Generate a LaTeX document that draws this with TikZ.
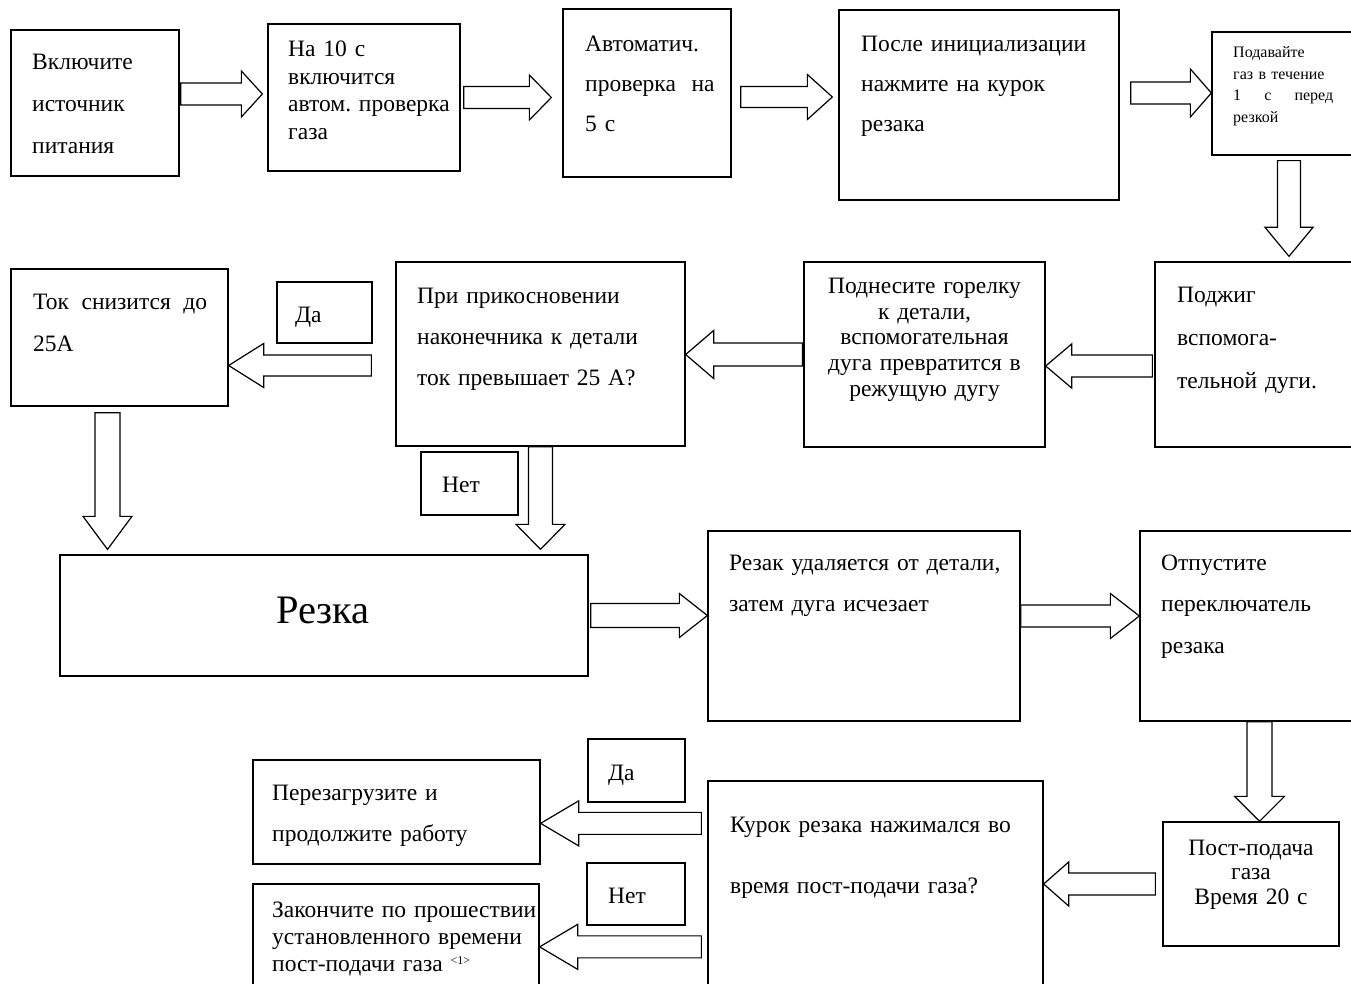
\documentclass[tikz,border=0pt]{standalone}
\usepackage{fontspec}
\setmainfont{Liberation Serif}
\usetikzlibrary{calc,fit}
\newcommand\fs[2]{\fontsize{#1}{#2}\selectfont\frenchspacing}
\tikzset{
  box/.style={draw, line width=1.3pt, inner sep=0pt},
  txt/.style={inner sep=0pt, anchor=base west, align=left, text width=#1},
  ctxt/.style={inner sep=0pt, anchor=base, align=center, text width=#1},
  barrow/.style={draw, line width=1.2pt, fill=white, line join=miter},
}
% block arrow: #1 from, #2 to, #3 shaft half-width, #4 head length, #5 head half-width
\newcommand\blockarrow[5]{%
  \draw[barrow] ($(#1)!#3pt!90:(#2)$)
    -- ($($(#2)!#4pt!(#1)$)!#3pt!90:(#2)$)
    -- ($($(#2)!#4pt!(#1)$)!#5pt!90:(#2)$)
    -- (#2)
    -- ($($(#2)!#4pt!(#1)$)!#5pt!-90:(#2)$)
    -- ($($(#2)!#4pt!(#1)$)!#3pt!-90:(#2)$)
    -- ($(#1)!#3pt!-90:(#2)$) -- cycle;}
\begin{document}
\begin{tikzpicture}[x=1pt,y=-1pt]
\useasboundingbox (0,0) rectangle (1351,984);
% boxes
\node[box, fit={(11,30) (179,176)}] (b1) {};
\node[box, fit={(268,24) (460,171)}] (b2) {};
\node[box, fit={(563,9) (731,177)}] (b3) {};
\node[box, fit={(839,10) (1119,200)}] (b4) {};
\node[box, fit={(1212,32) (1356,155)}] (b5) {};
\node[box, fit={(1155,262) (1356,447)}] (b6) {};
\node[box, fit={(804,262) (1045,447)}] (b7) {};
\node[box, fit={(396,262) (685,446)}] (b8) {};
\node[box, fit={(11,269) (228,406)}] (b9) {};
\node[box, fit={(277,282) (372,343)}] (l1) {};
\node[box, fit={(421,452) (518,515)}] (l2) {};
\node[box, fit={(60,555) (588,676)}] (b10) {};
\node[box, fit={(708,531) (1020,721)}] (b11) {};
\node[box, fit={(1140,531) (1356,721)}] (b12) {};
\node[box, fit={(1163,822) (1339,946)}] (b13) {};
\node[box, fit={(708,781) (1043,995)}] (b14) {};
\node[box, fit={(253,760) (540,864)}] (b15) {};
\node[box, fit={(253,884) (539,995)}] (b16) {};
\node[box, fit={(588,739) (685,802)}] (l3) {};
\node[box, fit={(587,863) (685,925)}] (l4) {};
% texts
\node[txt=150pt, font=\fs{23.5}{42}] (t1) at (32,70) {Включите\\источник\\питания};
\node[txt=180pt, font=\fs{23.5}{27.5}] (t2) at (288,57) {На 10 с\\включится\\автом. проверка\\газа};
\node[txt=150pt, font=\fs{23.5}{40}] (t3) at (585,52) {Автоматич.\\проверка~ на\\5 с};
\node[txt=260pt, font=\fs{23.5}{40}] (t4) at (861,52) {После инициализации\\нажмите на курок\\резака};
\node[txt=100pt, font=\fs{16}{21.5}] (t5) at (1233,58) {Подавайте\\газ в течение\\1\hfill с\hfill перед\\резкой};
\node[txt=175pt, font=\fs{23.5}{43}] (t6) at (1177,302) {Поджиг\\вспомога-\\тельной дуги.};
\node[ctxt=240pt, font=\fs{23.5}{25.5}] (t7) at (924.5,294) {Поднесите горелку\\к детали,\\вспомогательная\\дуга превратится в\\режущую дугу};
\node[txt=265pt, font=\fs{23.5}{41}] (t8) at (417,303) {При прикосновении\\наконечника к детали\\ток превышает 25 А?};
\node[txt=174pt, font=\fs{23.5}{42}] (t9) at (33,309) {Ток\hfill снизится\hfill до\\25А};
\node[txt=60pt, font=\fs{23.5}{26}] (tl1) at (295,322) {Да};
\node[txt=60pt, font=\fs{23.5}{26}] (tl2) at (442,492) {Нет};
\node[inner sep=0pt, anchor=base, font=\fs{40.5}{46}] (t10) at (323,623) {Резка};
\node[txt=300pt, font=\fs{23.5}{41}] (t11) at (729,570) {Резак удаляется от детали,\\затем дуга исчезает};
\node[txt=190pt, font=\fs{23.5}{41.5}] (t12) at (1161,570) {Отпустите\\переключатель\\резака};
\node[ctxt=176pt, font=\fs{23.5}{24.5}] (t13) at (1251,855) {Пост-подача\\газа\\Время 20 с};
\node[txt=310pt, font=\fs{23.5}{61}] (t14) at (730,832) {Курок резака нажимался во\\время пост-подачи газа?};
\node[txt=268pt, font=\fs{23.5}{41}] (t15) at (272,800) {Перезагрузите и\\продолжите работу};
\node[txt=270pt, font=\fs{23.5}{27}] (t16) at (272,917) {Закончите по прошествии\\установленного времени\\пост-подачи газа \raisebox{7pt}{\fs{12}{12}<1>}};
\node[txt=60pt, font=\fs{23.5}{26}] (tl3) at (608,780) {Да};
\node[txt=60pt, font=\fs{23.5}{26}] (tl4) at (608,903) {Нет};
% arrow endpoints
\coordinate (a1s) at ($(b1.east)+(1,-9)$);
\coordinate (a1e) at ($(b2.west|-a1s)+(-5,0)$);
\coordinate (a2s) at ($(b2.east)+(3,0)$);
\coordinate (a2e) at ($(b3.west|-a2s)+(-11,0)$);
\coordinate (a3s) at ($(b3.east)+(9,4)$);
\coordinate (a3e) at ($(b4.west|-a3s)+(-6,0)$);
\coordinate (a4s) at ($(b4.east)+(11,-12)$);
\coordinate (a4e) at (b5.west|-a4s);
\coordinate (a5s) at ($(b5.south)+(5,5)$);
\coordinate (a5e) at ($(a5s|-b6.north)+(0,-5)$);
\coordinate (a6s) at ($(b6.west)+(-2,11.5)$);
\coordinate (a6e) at (b7.east|-a6s);
\coordinate (a7s) at ($(b7.west)+(-1,0)$);
\coordinate (a7e) at (b8.east|-a7s);
\coordinate (a8s) at ($(b8.west)+(-24,11.5)$);
\coordinate (a8e) at (b9.east|-a8s);
\coordinate (a9s) at ($(b9.south)+(-12,6)$);
\coordinate (a9e) at ($(a9s|-b10.north)+(0,-5)$);
\coordinate (a10s) at (b8.south);
\coordinate (a10e) at ($(a10s|-b10.north)+(0,-5)$);
\coordinate (a11s) at ($(b10.east)+(2,0)$);
\coordinate (a11e) at (b11.west|-a11s);
\coordinate (a12s) at ($(b11.east)+(0,-10)$);
\coordinate (a12e) at (b12.west|-a12s);
\coordinate (a13s) at ($(b12.south)+(11.5,0)$);
\coordinate (a13e) at (a13s|-b13.north);
\coordinate (a14s) at ($(b13.west)+(-7,0)$);
\coordinate (a14e) at (b14.east|-a14s);
\coordinate (a15s) at ($(b14.north west)+(-6,43)$);
\coordinate (a15e) at (b15.east|-a15s);
\coordinate (a16s) at ($(b14.north west)+(-6,166.5)$);
\coordinate (a16e) at (b16.east|-a16s);
% arrows
\blockarrow{a1s}{a1e}{11}{21}{23}
\blockarrow{a2s}{a2e}{11}{22}{22.5}
\blockarrow{a3s}{a3e}{10.5}{25}{22.5}
\blockarrow{a4s}{a4e}{11}{21}{24}
\blockarrow{a5s}{a5e}{11.5}{29}{24}
\blockarrow{a6s}{a6e}{11}{26}{22}
\blockarrow{a7s}{a7e}{11.5}{28}{24}
\blockarrow{a8s}{a8e}{10.5}{35}{22}
\blockarrow{a9s}{a9e}{12.5}{33}{24.5}
\blockarrow{a10s}{a10e}{12}{25}{24.5}
\blockarrow{a11s}{a11e}{12}{28}{22}
\blockarrow{a12s}{a12e}{11}{29}{22.5}
\blockarrow{a13s}{a13e}{12.5}{25}{25}
\blockarrow{a14s}{a14e}{11}{25}{22}
\blockarrow{a15s}{a15e}{11}{38}{22.5}
\blockarrow{a16s}{a16e}{11}{38}{22.5}
\end{tikzpicture}
\end{document}
